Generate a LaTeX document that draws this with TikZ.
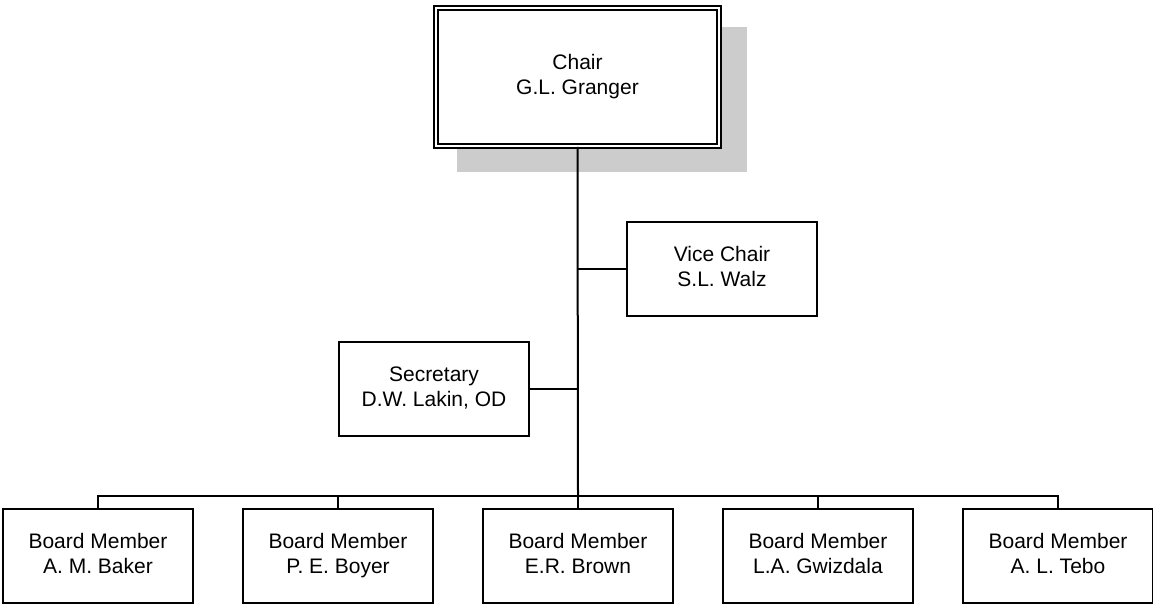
\documentclass[tikz,border=0pt]{standalone}
\usepackage{fontspec}
\setmainfont{Liberation Sans}
\newcommand{\twolines}[2]{\strut#1\strut\\\strut#2\strut}
\begin{document}
\begin{tikzpicture}[x=1pt,y=-1pt,
  box/.style={draw=black, line width=2pt, fill=white, minimum width=190pt, minimum height=94pt, align=center, inner sep=0pt, font=\fontsize{21}{25.5}\selectfont},
  chairbox/.style={draw=black, line width=1.6pt, double=white, double distance=2.8pt, fill=white, minimum width=283pt, minimum height=138pt, align=center, inner sep=0pt, font=\fontsize{21}{25.5}\selectfont},
  conn/.style={draw=black, line width=2pt}]
\useasboundingbox (0,0) rectangle (1153,604);
\fill[fill={rgb,255:red,204;green,204;blue,204}] (457,27) rectangle (747,172);
\node[chairbox] (chair) at (577.5,77) {\twolines{Chair}{G.L. Granger}};
\node[box] (vice) at (722,269) {\twolines{Vice Chair}{S.L. Walz}};
\node[box] (sec) at (434,389) {\twolines{Secretary}{D.W. Lakin, OD}};
\node[box] (b1) at (98,556) {\twolines{Board Member}{A. M. Baker}};
\node[box] (b2) at (338,556) {\twolines{Board Member}{P. E. Boyer}};
\node[box] (b3) at (578,556) {\twolines{Board Member}{E.R. Brown}};
\node[box] (b4) at (818,556) {\twolines{Board Member}{L.A. Gwizdala}};
\node[box] (b5) at (1058,556) {\twolines{Board Member}{A. L. Tebo}};
\coordinate (hub) at (578,496);
\draw[conn] (chair.south) -- (hub);
\draw[conn] (vice.west) -- (vice.west -| hub);
\draw[conn] (sec.east) -- (sec.east -| hub);
\draw[conn] (b1.north) |- (hub);
\draw[conn] (b2.north) |- (hub);
\draw[conn] (b3.north) -- (hub);
\draw[conn] (b4.north) |- (hub);
\draw[conn] (b5.north) |- (hub);
\end{tikzpicture}
\end{document}
